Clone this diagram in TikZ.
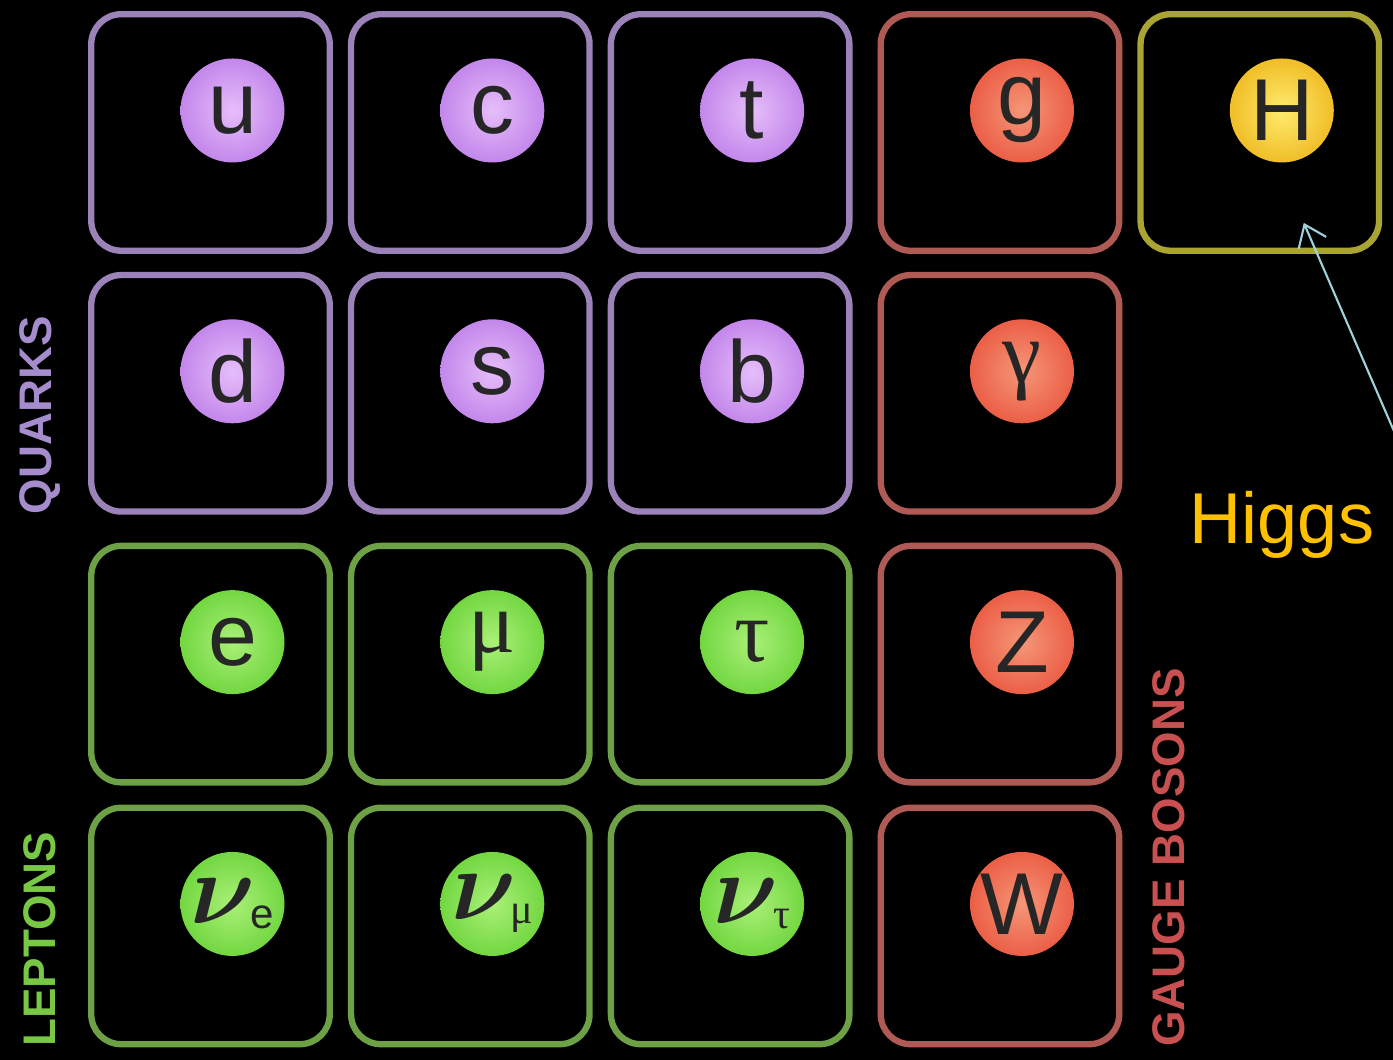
\documentclass[tikz,border=0pt]{standalone}
\usepackage{fontspec}
\setmainfont{Liberation Sans}
\newfontfamily\grkfont{Liberation Serif}
\usepackage{tikz}
\usetikzlibrary{arrows.meta,positioning,calc}
\definecolor{QuarkLine}{RGB}{155,130,185}
\definecolor{QuarkBall}{RGB}{195,135,235}
\definecolor{QuarkLight}{RGB}{230,190,250}
\definecolor{QuarkText}{RGB}{165,140,205}
\definecolor{LeptonLine}{RGB}{110,160,70}
\definecolor{LeptonBall}{RGB}{115,215,65}
\definecolor{LeptonLight}{RGB}{170,240,120}
\definecolor{LeptonText}{RGB}{120,200,70}
\definecolor{BosonLine}{RGB}{175,90,85}
\definecolor{BosonBall}{RGB}{235,95,70}
\definecolor{BosonLight}{RGB}{245,150,120}
\definecolor{BosonText}{RGB}{200,80,80}
\definecolor{HiggsLine}{RGB}{170,165,50}
\definecolor{HiggsBall}{RGB}{240,190,40}
\definecolor{HiggsLight}{RGB}{255,235,110}
\definecolor{HiggsText}{RGB}{255,192,0}
\definecolor{ArrowBlue}{RGB}{160,210,220}
\newcommand{\nusub}[1]{\makebox[0pt]{\scalebox{1.15}{\boldmath$\nu$}\kern-0.06em\raisebox{-0.05em}{\fontsize{12}{12}\selectfont#1}}}

\begin{document}
\begin{tikzpicture}[
  node distance=1.5mm,
  cell/.style={
    draw,rounded corners=3mm,line width=1.8pt,fill=black,
    minimum width=2.385cm,minimum height=2.365cm,inner sep=0pt
  },
  ball/.style={
    circle,inner sep=0pt,minimum size=1.04cm,text=black!85,
    font=\fontsize{25}{25}\selectfont
  },
  quark/.style={cell,draw=QuarkLine},
  lepton/.style={cell,draw=LeptonLine},
  boson/.style={cell,draw=BosonLine},
  higgs/.style={cell,draw=HiggsLine},
  qball/.style={ball,inner color=QuarkLight,outer color=QuarkBall},
  lball/.style={ball,inner color=LeptonLight,outer color=LeptonBall},
  bball/.style={ball,inner color=BosonLight,outer color=BosonBall},
  hball/.style={ball,inner color=HiggsLight,outer color=HiggsBall},
  grp/.style={
    rotate=90,anchor=west,inner sep=0pt,
    font=\fontsize{13}{13}\selectfont\bfseries
  },
  arr/.style={-{Straight Barb[length=2mm,width=3mm]},line width=0.6pt,ArrowBlue}
]
  \fill[black] (0,0) rectangle (13.93,10.6);
  \useasboundingbox (0,0) rectangle (13.93,10.6);

  \node[quark] (u) at (2.105,9.275) {};
  \node[quark,right=of u] (c) {};
  \node[quark,right=of c] (t) {};
  \node[boson,right=2.5mm of t] (g) {};
  \node[higgs,right=of g] (H) {};

  \node[quark,below=1.8mm of u] (d) {};
  \node[quark,below=1.8mm of c] (s) {};
  \node[quark,below=1.8mm of t] (b) {};
  \node[boson,below=1.8mm of g] (gamma) {};

  \node[lepton,below=2.8mm of d] (e) {};
  \node[lepton,below=2.8mm of s] (mu) {};
  \node[lepton,below=2.8mm of b] (tau) {};
  \node[boson,below=2.8mm of gamma] (Z) {};

  \node[lepton,below=1.9mm of e] (nue) {};
  \node[lepton,below=1.9mm of mu] (numu) {};
  \node[lepton,below=1.9mm of tau] (nutau) {};
  \node[boson,below=1.9mm of Z] (W) {};

  \node[qball] (uball) at ($(u)+(0.22,0.22)$) {u};
  \node[qball] (cball) at ($(c)+(0.22,0.22)$) {c};
  \node[qball] (tball) at ($(t)+(0.22,0.22)$) {t};
  \node[bball] (gball) at ($(g)+(0.22,0.22)$) {g};
  \node[hball] (Hball) at ($(H)+(0.22,0.22)$) {H};
  \node[qball] (dball) at ($(d)+(0.22,0.22)$) {d};
  \node[qball] (sball) at ($(s)+(0.22,0.22)$) {s};
  \node[qball] (bball) at ($(b)+(0.22,0.22)$) {b};
  \node[bball] (gammaball) at ($(gamma)+(0.22,0.22)$) {\grkfont γ};
  \node[lball] (eball) at ($(e)+(0.22,0.22)$) {e};
  \node[lball] (muball) at ($(mu)+(0.22,0.22)$) {\grkfont μ};
  \node[lball] (tauball) at ($(tau)+(0.22,0.22)$) {\grkfont τ};
  \node[bball] (Zball) at ($(Z)+(0.22,0.22)$) {Z};
  \node[lball] (nueball) at ($(nue)+(0.22,0.22)$) {\nusub{e}};
  \node[lball] (numuball) at ($(numu)+(0.22,0.22)$) {\nusub{\grkfont μ}};
  \node[lball] (nutauball) at ($(nutau)+(0.22,0.22)$) {\nusub{\grkfont τ}};
  \node[bball] (Wball) at ($(W)+(0.22,0.22)$) {W};

  \node[grp,text=QuarkText] (quarks) at ($(d.south west)+(-0.48,0)$) {QUARKS};
  \node[grp,text=LeptonText] (leptons) at ($(nue.south west)+(-0.48,0)$) {LEPTONS};
  \node[grp,text=BosonText] (bosons) at ($(W.south east)+(0.46,0)$) {GAUGE BOSONS};

  \node[font=\fontsize{20.5}{20.5}\selectfont,text=HiggsText] (higgslbl)
    at (12.82,5.35) {Higgs};
  \coordinate (arrtail) at (14.0,6.15);
  \coordinate (arrtip) at ($(H.south)+(0.44,0.31)$);
  \draw[arr] (arrtail) -- (arrtip);
\end{tikzpicture}
\end{document}
